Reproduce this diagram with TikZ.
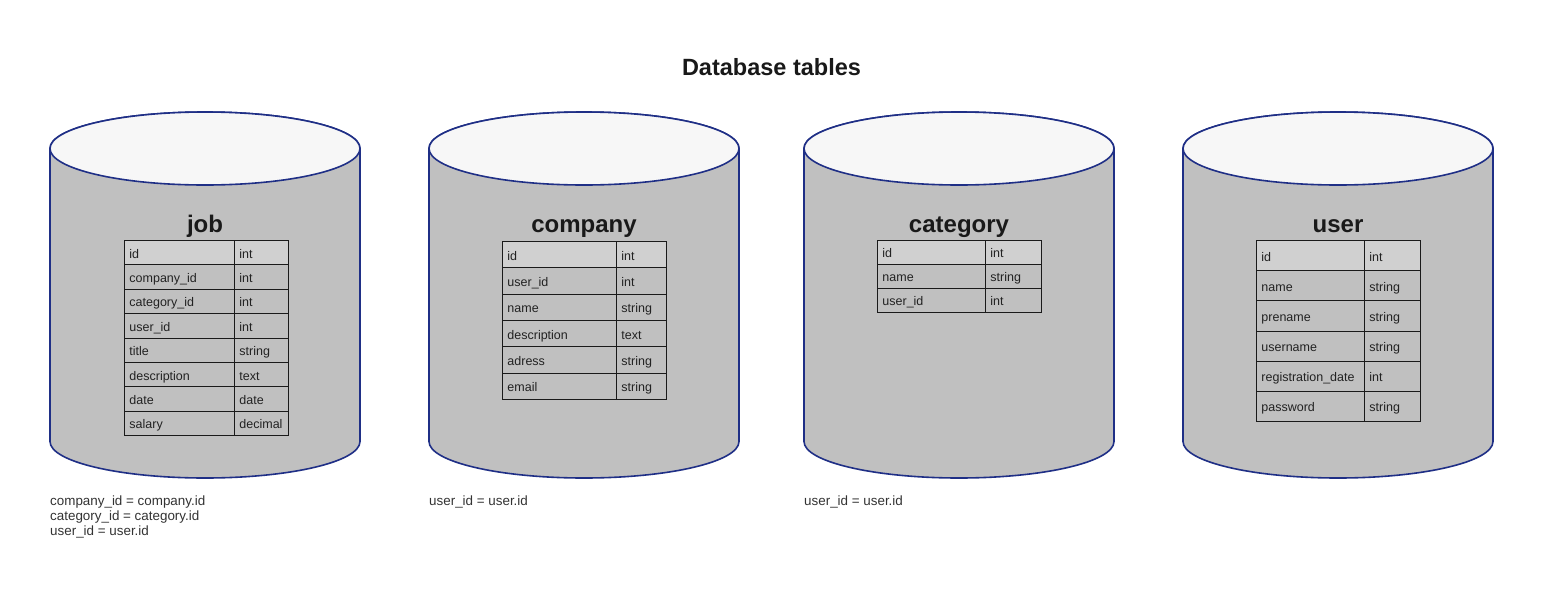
\documentclass[tikz,border=0pt]{standalone}
\usepackage{fontspec}
\setmainfont{Liberation Sans}
\definecolor{cylblue}{HTML}{1F2F86}
\definecolor{cylbodyc}{HTML}{C0C0C0}
\definecolor{cyltopc}{HTML}{F7F7F7}
\definecolor{hdrfill}{HTML}{D0D0D0}
\definecolor{notegray}{HTML}{333333}
\definecolor{celltext}{HTML}{222222}
\definecolor{cellline}{HTML}{1A1A1A}
\tikzset{
  cylside/.style={draw=cylblue, line width=1.6pt, fill=cylbodyc, line join=round},
  cyltop/.style={draw=cylblue, line width=1.6pt, fill=cyltopc},
  cell/.style={draw=cellline, line width=0.9pt, rectangle, anchor=north west,
    inner xsep=5pt, inner ysep=0pt, align=left, text=celltext,
    text height=12pt, text depth=1pt, font=\fontsize{12.5}{14}\selectfont},
  tabtitle/.style={anchor=base, font=\fontsize{24}{28}\selectfont\bfseries, text=black!90},
  maintitle/.style={anchor=base, font=\fontsize{23.5}{28}\selectfont\bfseries, text=black!90},
  note/.style={anchor=base west, inner sep=0pt, font=\fontsize{13.4}{15}\selectfont, text=notegray},
  rowfill/.style={}
}
\newcommand\dbcyl[1]{%
  \path[cylside] (#1,-148.5) -- (#1,-441.5)
    arc[start angle=180,end angle=360,x radius=155,y radius=36.5]
    -- ({#1+310},-148.5)
    arc[start angle=0,end angle=180,x radius=155,y radius=36.5] -- cycle;
  \draw[cyltop] ({#1+155},-148.5) ellipse[x radius=155,y radius=36.5];
}
% #1 name, #2 x0, #3 xdiv, #4 x1, #5 ytop, #6 row height, #7 rows
\newcommand\dbtable[7]{%
  \pgfmathsetmacro\wfa{#3-#2}%
  \pgfmathsetmacro\wfb{#3-#2-10}%
  \pgfmathsetmacro\wta{#4-#3}%
  \pgfmathsetmacro\wtb{#4-#3-10}%
  \foreach \f/\t [count=\i] in {#7} {%
    \pgfmathsetmacro\ya{-(#5)-(\i-1)*(#6)}%
    \ifnum\i=1 \tikzset{rowfill/.style={fill=hdrfill}}\else\tikzset{rowfill/.style={}}\fi
    \node[cell, rowfill, minimum width=\wfa pt, text width=\wfb pt, minimum height=#6pt]
      (#1-f\i) at (#2,\ya) {\f};
    \node[cell, rowfill, minimum width=\wta pt, text width=\wtb pt, minimum height=#6pt]
      (#1-t\i) at (#3,\ya) {\t};
  }%
}
\begin{document}
\begin{tikzpicture}[x=1pt,y=1pt]
\useasboundingbox (0,0) rectangle (1543,-590);
\fill[white] (0,0) rectangle (1543,-590);

\node[maintitle] (title) at (771.5,-75) {Database tables};

% cylinders
\dbcyl{50}
\dbcyl{429}
\dbcyl{804}
\dbcyl{1183}

% titles
\node[tabtitle] (job-title) at (205,-232) {job};
\node[tabtitle] (company-title) at (584,-232) {company};
\node[tabtitle] (category-title) at (959,-232) {category};
\node[tabtitle] (user-title) at (1338,-232) {user};

% tables
\dbtable{job}{124}{234}{288}{240}{24.375}{id/int, company\_id/int, category\_id/int, user\_id/int, title/string, description/text, date/date, salary/decimal}
\dbtable{company}{502}{616}{666}{241}{26.33}{id/int, user\_id/int, name/string, description/text, adress/string, email/string}
\dbtable{category}{877}{985}{1041}{240}{24}{id/int, name/string, user\_id/int}
\dbtable{user}{1256}{1364}{1420}{240}{30.17}{id/int, name/string, prename/string, username/string, registration\_date/int, password/string}

% notes
\node[note] (job-note1) at (50,-505) {company\_id = company.id};
\node[note] (job-note2) at (50,-520) {category\_id = category.id};
\node[note] (job-note3) at (50,-535) {user\_id = user.id};
\node[note] (company-note) at (429,-505) {user\_id = user.id};
\node[note] (category-note) at (804,-505) {user\_id = user.id};
\end{tikzpicture}
\end{document}
